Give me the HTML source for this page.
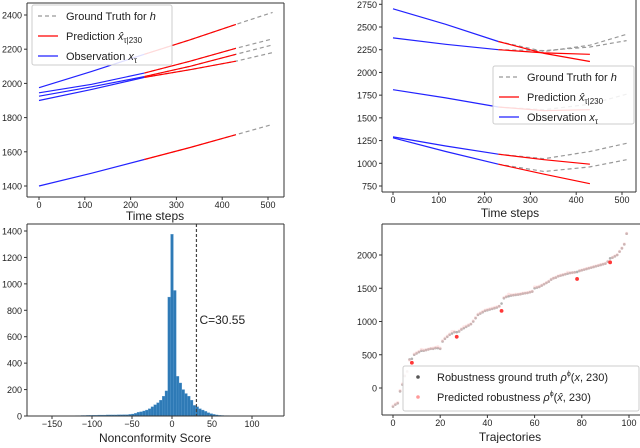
<!DOCTYPE html>
<html><head><meta charset="utf-8"><style>
body{margin:0;background:#fff;width:640px;height:443px;overflow:hidden}
svg{font-family:"Liberation Sans","DejaVu Sans",sans-serif}
</style></head><body>
<svg id="s" width="640" height="443" xmlns="http://www.w3.org/2000/svg"></svg>
<script>
// ---- Panel 1 data ----
const p1Times=[0,115,230,330,430,510];
const p1Series=[
 [1975,2070,2170,2255,2345,2415],
 [1945,1995,2060,2130,2205,2260],
 [1925,1980,2040,2100,2170,2225],
 [1900,1965,2035,2080,2130,2180],
 [1400,1475,1555,1625,1700,1760]];
const p1XTicks=[0,100,200,300,400,500];
const p1YTicks=[1400,1600,1800,2000,2200,2400];
// ---- Panel 2 data ----
const p2ObsTimes=[0,115,230];
const p2Obs=[[2700,2530,2340],[2380,2310,2250],[1810,1720,1620],[1290,1190,1100],[1280,1130,990]];
const p2PredTimes=[230,330,430];
const p2Pred=[[2340,2210,2120],[2250,2215,2200],[1620,1580,1590],[1100,1040,990],[990,880,775]];
const p2GtTimes=[230,330,430,510];
const p2Gt=[[2340,2230,2300,2420],[2250,2240,2280,2350],[1620,1590,1650,1760],[1100,1050,1130,1220],[990,910,960,1040]];
const p2XTicks=[0,100,200,300,400,500];
const p2YTicks=[750,1000,1250,1500,1750,2000,2250,2500,2750];
// ---- Panel 3 data ----
const histStart=-119, histWidth=3.5;
const histCounts=[3,3,4,4,5,5,6,6,7,7,7,8,8,8,8,9,9,10,10,12,15,20,28,32,38,45,55,70,85,100,120,150,190,900,
 1375,950,300,250,200,170,150,120,80,70,55,45,35,25,18,12,8,5,4,3,3,2,2,1];
const threshold=30.55;
const p3XTicks=[-150,-100,-50,0,50,100];
const p3YTicks=[0,200,400,600,800,1000,1200,1400];
// ---- Panel 4 data ----
const gtRob=[-280,-250,-230,-50,50,180,250,430,440,500,520,540,560,560,570,580,590,590,600,600,590,700,740,770,800,820,840,840,850,880,900,920,940,960,1000,1050,1100,1120,1140,1160,1170,1180,1190,1200,1210,1230,1270,1350,1370,1380,1390,1395,1400,1405,1410,1420,1425,1430,1440,1450,1500,1510,1520,1540,1560,1580,1600,1630,1650,1660,1680,1690,1700,1710,1720,1730,1735,1740,1745,1760,1770,1780,1790,1800,1810,1820,1830,1840,1850,1860,1870,1900,1950,1960,1980,2000,2050,2100,2160,2320];
const predRob=[-270,-240,-220,-40,60,190,240,420,380,510,530,550,580,570,575,585,595,600,610,620,600,710,750,780,810,850,850,770,860,890,920,930,950,965,1010,1060,1110,1130,1150,1170,1180,1190,1200,1210,1220,1230,1160,1360,1380,1410,1400,1400,1410,1410,1415,1425,1430,1435,1445,1455,1520,1520,1530,1545,1565,1585,1605,1635,1655,1665,1685,1695,1705,1715,1740,1730,1735,1740,1640,1765,1775,1785,1795,1805,1815,1825,1835,1845,1855,1865,1875,1905,1890,1965,1985,2005,2055,2105,2165,2325];
const p4XTicks=[0,20,40,60,80,100];
const p4YTicks=[0,500,1000,1500,2000];

const S=document.getElementById('s');
const NS='http://www.w3.org/2000/svg';
function mk(tag,attrs,parent){const e=document.createElementNS(NS,tag);for(const k in attrs)e.setAttribute(k,attrs[k]);(parent||S).appendChild(e);return e;}
function lin(d0,d1,r0,r1){return v=>r0+(v-d0)*(r1-r0)/(d1-d0);}
function txt(x,y,s,size,anchor,name){const t=mk('text',{x:x,y:y,'font-size':size,'text-anchor':anchor||'middle',fill:'#222'});t.textContent=s;


return t;}
function frame(x0,y0,x1,y1,name,sides){const g=mk('g',{});


const st={stroke:'#333','stroke-width':1};
if(sides.includes('t'))mk('line',Object.assign({x1:x0,y1:y0,x2:x1,y2:y0},st),g);
if(sides.includes('b'))mk('line',Object.assign({x1:x0,y1:y1,x2:x1,y2:y1},st),g);
if(sides.includes('l'))mk('line',Object.assign({x1:x0,y1:y0,x2:x0,y2:y1},st),g);
if(sides.includes('r'))mk('line',Object.assign({x1:x1,y1:y0,x2:x1,y2:y1},st),g);return g;}
function ticks(xs,ys,X,Y,yb,xl,fmt,pre){
 xs.forEach(v=>{const x=X(v);mk('line',{x1:x,y1:yb,x2:x,y2:yb+3,stroke:'#333'});txt(x,yb+11,fmt?fmt(v):String(v),9,'middle',pre+'-x-tick');});
 ys.forEach(v=>{const y=Y(v);mk('line',{x1:xl-3,y1:y,x2:xl,y2:y,stroke:'#333'});txt(xl-5,y+3.5,String(v),9,'end',pre+'-y-tick');});
}
function poly(ts,vs,X,Y,col,dash,name){const pts=ts.map((t,i)=>X(t).toFixed(1)+','+Y(vs[i]).toFixed(1)).join(' ');
const p=mk('polyline',{points:pts,fill:'none',stroke:col,'stroke-width':1.2});if(dash)p.setAttribute('stroke-dasharray',dash);


return p;}
function legend(x,y,w,h,items,name){const g=mk('g',{});


mk('rect',{x:x,y:y,width:w,height:h,fill:'rgba(255,255,255,0.85)',stroke:'#ccc',rx:2},g);
items.forEach((it,i)=>{const yy=y+11+i*20;
 if(it.marker){mk('circle',{cx:x+15,cy:yy,r:1.8,fill:it.col},g);}
 else{const l=mk('line',{x1:x+6,y1:yy,x2:x+26,y2:yy,stroke:it.col,'stroke-width':1.3},g);if(it.dash)l.setAttribute('stroke-dasharray',it.dash);}
 const t=mk('text',{x:x+34,y:yy+4,'font-size':11,fill:'#222'},g);t.innerHTML=it.label;});
}
const GTLBL='Ground Truth for <tspan font-style="italic">h</tspan>';
const PRLBL='Prediction <tspan font-style="italic">x̂</tspan><tspan font-size="8" dy="3">τ|230</tspan>';
const OBLBL='Observation <tspan font-style="italic">x</tspan><tspan font-size="8" dy="3">τ</tspan>';

// ===== Panel 1 =====
{const X=lin(0,500,39,268),Y=lin(1400,2400,186,15);
frame(27,3,284,197,'panel1-axes','tblr');
ticks(p1XTicks,p1YTicks,X,Y,197,27,null,'panel1');
p1Series.forEach((s,i)=>{
 poly(p1Times.slice(2),s.slice(2),X,Y,'#999','4,3','ground-truth-line');
 poly(p1Times.slice(2,5),s.slice(2,5),X,Y,'#f00',null,'prediction-line');
 poly(p1Times.slice(0,3),s.slice(0,3),X,Y,'#22f',null,'observation-line');});
legend(32,5,140,60,[{col:'#999',dash:'4,3',label:GTLBL},{col:'#f00',label:PRLBL},{col:'#22f',label:OBLBL}],'panel1-legend');
txt(155,220,'Time steps',12,'middle','panel1-x-axis-title');}

// ===== Panel 2 =====
{const X=lin(0,500,393,622),Y=lin(750,2750,186,4.3);
frame(382,0,636,192,'panel2-axes','blr');
ticks(p2XTicks,p2YTicks,X,Y,192,382,null,'panel2');
p2Gt.forEach(s=>poly(p2GtTimes,s,X,Y,'#999','4,3','ground-truth-line'));
p2Pred.forEach(s=>poly(p2PredTimes,s,X,Y,'#f00',null,'prediction-line'));
p2Obs.forEach(s=>poly(p2ObsTimes,s,X,Y,'#22f',null,'observation-line'));
legend(493,66,141,58,[{col:'#999',dash:'4,3',label:GTLBL},{col:'#f00',label:PRLBL},{col:'#22f',label:OBLBL}],'panel2-legend');
txt(510,217,'Time steps',12,'middle','panel2-x-axis-title');}

// ===== Panel 3 =====
{const X=lin(-150,100,52,252),Y=lin(0,1400,416,231);
histCounts.forEach((c,k)=>{const a=histStart+k*histWidth-histWidth/2;const x0=X(a),x1=X(a+histWidth);
 const r=mk('rect',{x:x0,y:Y(c),width:x1-x0,height:Y(0)-Y(c),fill:'#2e7ab6',stroke:'#5a9bd0','stroke-width':0.3});
 
 });
const tx=X(threshold);const l=mk('line',{x1:tx,y1:224,x2:tx,y2:416,stroke:'#444','stroke-width':1.2,'stroke-dasharray':'3,2'});


txt(tx+3,324,'C='+threshold,12,'start','threshold-label');
frame(27,224,284,416,'panel3-axes','tblr');
ticks(p3XTicks,p3YTicks,X,Y,416,27,v=>v<0?'−'+(-v):String(v),'panel3');
txt(155,442,'Nonconformity Score',12,'middle','panel3-x-axis-title');}

// ===== Panel 4 =====
{const X=lin(0,100,393,629),Y=lin(0,2000,388,255);
frame(382,224,640,415,'panel4-axes','tbl');
ticks(p4XTicks,p4YTicks,X,Y,415,382,null,'panel4');
gtRob.forEach((v,i)=>{const c=mk('circle',{cx:X(i),cy:Y(v),r:1.3,fill:'#666','fill-opacity':0.5});
 
 });
predRob.forEach((v,i)=>{const d=Math.abs(v-gtRob[i])>50;const c=mk('circle',{cx:X(i),cy:Y(v),r:d?1.9:1.6,fill:d?'#f22':'#fbb','fill-opacity':d?0.9:0.35});
 
 });
legend(403,366,236,45,[{marker:1,col:'#555',label:'Robustness ground truth <tspan font-style="italic">ρ</tspan><tspan font-size="7" dy="-5">ϕ</tspan><tspan dy="5">(<tspan font-style="italic">x</tspan>, 230)</tspan>'},
 {marker:1,col:'#f99',label:'Predicted robustness <tspan font-style="italic">ρ</tspan><tspan font-size="7" dy="-5">ϕ</tspan><tspan dy="5">(<tspan font-style="italic">x̂</tspan>, 230)</tspan>'}],'panel4-legend');
txt(510,441,'Trajectories',12,'middle','panel4-x-axis-title');}
</script>
</body></html>
